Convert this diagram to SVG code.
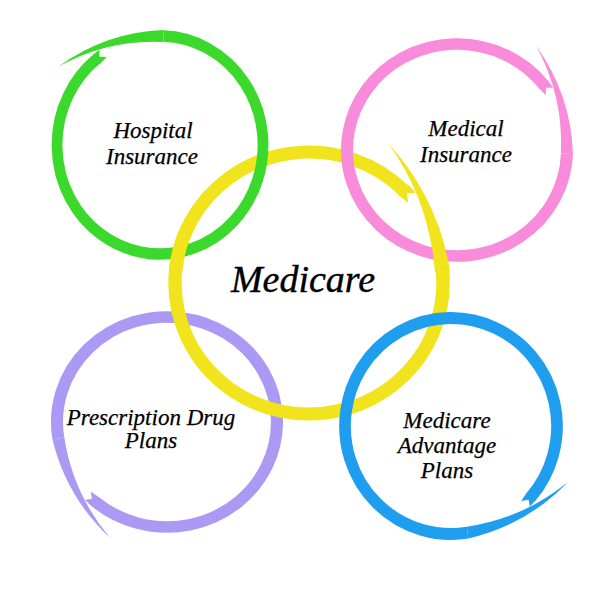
<svg xmlns="http://www.w3.org/2000/svg" xmlns:xlink="http://www.w3.org/1999/xlink" width="600" height="597" viewBox="0 0 600 597">
<style>
  text { font-family: "Liberation Serif", "Times New Roman", serif; font-style: italic; fill: #000; text-anchor: middle; stroke: #000; stroke-width: 0.25px; }
  .lbl { font-size: 23px; }
  .main { font-size: 38px; stroke-width: 0.4px; }
  .green { color: #3bd92c; stroke-width: 10.5; }
  .pink { color: #f98bdb; stroke-width: 11; }
  .yellow { color: #f1e41d; stroke-width: 10; }
  .purple { color: #aa9af4; stroke-width: 11; }
  .blue { color: #1f9dee; stroke-width: 11; }
</style>
<defs>
  <g id="ring">
    <path d="M100,0 A100,100 0 1 0 76.6,64.3" fill="none" stroke="currentColor"/>
    <path d="M80.8,67.8 A191,191 0 0 0 117.3,-33.6 A198,198 0 0 1 72.4,60.7 Z" fill="currentColor"/>
    <path d="M94.5,-0.5 L95.5,9 L100,3.5 L105,7.5 L105.5,-0.5 Z" fill="currentColor"/>
  </g>
  <clipPath id="clipGL"><rect x="148" y="225" width="52" height="45"/></clipPath>
  <clipPath id="clipPR"><rect x="420" y="225" width="40" height="55"/></clipPath>
</defs>
<rect width="600" height="597" fill="#ffffff"/>
<g id="connectors"/>
<g id="node-prescription">
  <use xlink:href="#ring" href="#ring" class="purple" transform="translate(167,422) scale(1.10,1.05) rotate(131)"/>
  <text class="lbl" x="151" y="425">Prescription Drug</text>
  <text class="lbl" x="151" y="448">Plans</text>
</g>
<g id="node-medicare">
  <use xlink:href="#ring" href="#ring" class="yellow" transform="translate(309,283) scale(1.34,1.31) rotate(-45)"/>
  <text class="main" x="303" y="292">Medicare</text>
</g>
<g id="node-advantage">
  <use xlink:href="#ring" href="#ring" class="blue" transform="translate(451,426) scale(1.06,1.08) rotate(41)"/>
  <text class="lbl" x="447" y="428">Medicare</text>
  <text class="lbl" x="447" y="453">Advantage</text>
  <text class="lbl" x="447" y="478">Plans</text>
</g>
<g id="node-hospital">
  <use xlink:href="#ring" href="#ring" class="green" transform="translate(160,145) scale(1.03,1.09) rotate(-128)"/>
  <text class="lbl" x="153" y="138">Hospital</text>
  <text class="lbl" x="152" y="164">Insurance</text>
</g>
<g id="node-medical">
  <use xlink:href="#ring" href="#ring" class="pink" transform="translate(457,150) scale(1.10,1.06) rotate(-38)"/>
  <text class="lbl" x="466" y="136">Medical</text>
  <text class="lbl" x="466" y="162">Insurance</text>
</g>
<g id="medicare-overlaps">
  <g clip-path="url(#clipGL)">
    <use xlink:href="#ring" href="#ring" class="yellow" transform="translate(309,283) scale(1.34,1.31) rotate(-45)"/>
  </g>
  <g clip-path="url(#clipPR)">
    <use xlink:href="#ring" href="#ring" class="yellow" transform="translate(309,283) scale(1.34,1.31) rotate(-45)"/>
  </g>
</g>
</svg>
